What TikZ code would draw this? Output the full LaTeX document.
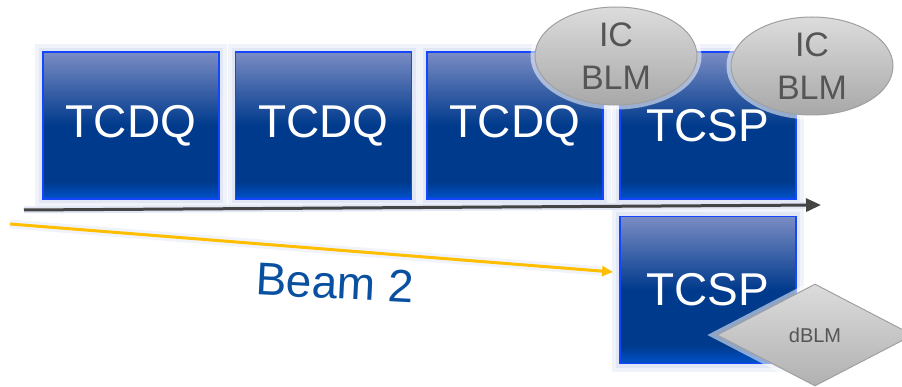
\documentclass[tikz,border=0pt]{standalone}
\usepackage{fontspec}
\setmainfont{Liberation Sans}
\usetikzlibrary{shapes.geometric,arrows.meta,calc}
\definecolor{bbot}{RGB}{0,82,204}
\definecolor{bdark}{RGB}{0,58,140}
\definecolor{btop}{RGB}{122,140,196}
\definecolor{bborder}{RGB}{20,70,255}
\definecolor{haloc}{RGB}{226,231,245}
\definecolor{halob}{RGB}{241,243,250}
\definecolor{beamy}{RGB}{255,190,0}
\definecolor{beamtxt}{RGB}{10,80,160}
\definecolor{axisc}{RGB}{68,68,68}
\definecolor{icgray}{RGB}{85,85,85}
\definecolor{elltop}{RGB}{220,220,220}
\definecolor{ellbot}{RGB}{168,168,168}
\definecolor{ellborder}{RGB}{160,160,160}
\pgfdeclareverticalshading{boxshade}{100bp}{color(0bp)=(bbot); color(25bp)=(bbot); color(31bp)=(bdark); color(50bp)=(bdark); color(75bp)=(btop); color(100bp)=(btop)}
\begin{document}
\begin{tikzpicture}[x=1pt,y=-1pt,
  collim/.style={rectangle, draw=bborder, line width=1.5pt, shade, shading=boxshade,
    minimum width=176pt, minimum height=147pt, inner sep=0pt, text=white,
    font=\fontsize{46}{50}\selectfont,
    preaction={draw=halob, line width=16pt},
    preaction={draw=haloc, line width=8pt}},
  icblm/.style={ellipse, draw=ellborder, line width=1pt, top color=elltop, bottom color=ellbot,
    minimum width=162pt, minimum height=98pt, inner sep=0pt, align=center, text=icgray,
    font=\fontsize{34}{43}\selectfont,
    preaction={draw=white, line width=9pt, opacity=0.55}},
  dblm/.style={diamond, draw=ellborder, line width=1pt, top color=elltop, bottom color=ellbot!90!white,
    minimum width=196pt, minimum height=102pt, inner sep=0pt, text=icgray,
    font=\fontsize{20}{24}\selectfont,
    preaction={draw=white, line width=9pt, opacity=0.55}},
  beamline/.style={line width=3pt},
]
\useasboundingbox (0,0) rectangle (902,387);
\clip (0,0) rectangle (902,387);
\fill[white] (0,0) rectangle (902,387);

% collimators
\node[collim] (q1) at (131,125.5) {TCDQ};
\node[collim] (q2) at (323.5,125.5) {TCDQ};
\node[collim] (q3) at (515,125.5) {TCDQ};
\node[collim] (s1) at (708,125.5) {TCSP};
\node[collim] (s2) at (708,290) {TCSP};

% axis arrow and beam
\coordinate (axL) at (24,210);
\coordinate (axR) at (821,205);
\coordinate (bmL) at (10,224);
\coordinate (bmR) at (613,272);
\draw[haloc, line width=7pt] (axL) -- ($(axR)!0.02!(axL)$);
\draw[axisc, beamline, -{Triangle[length=15pt,width=13pt]}] (axL) -- (axR);
\draw[halob, line width=9pt] (bmL) -- ($(bmR)!0.02!(bmL)$);
\draw[beamy, beamline, -{Triangle[length=11pt,width=10pt]}] (bmL) -- (bmR);

% monitors
\node[icblm] (ic1) at (616,56) {IC\\BLM};
\node[icblm] (ic2) at (812,66) {IC\\BLM};
\node[dblm] (d1) at (815,335) {dBLM};

% label
\node[text=beamtxt, font=\fontsize{46}{50}\selectfont, rotate=-3] (lab) at (335,283) {Beam 2};
\end{tikzpicture}
\end{document}
